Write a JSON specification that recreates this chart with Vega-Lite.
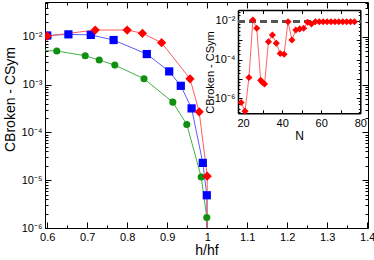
{
  "$schema": "https://vega.github.io/schema/vega-lite/v6.json",
  "width": 323,
  "height": 226,
  "autosize": {"type": "none"},
  "padding": {"left": 45, "top": 2, "right": 6, "bottom": 32},
  "background": "white",
  "config": {
    "font": "Liberation Sans",
    "view": {"stroke": "#000000", "strokeWidth": 1},
    "axis": {"labelColor": "#000000", "titleColor": "#000000", "tickColor": "#000000", "domainColor": "#000000", "grid": false, "titleFontWeight": "normal", "labelFont": "Liberation Sans", "titleFont": "Liberation Sans", "labelFlush": false, "labelOverlap": false}
  },
  "datasets": {
    "main": [
      {"s": "green", "h": 0.58, "C": 0.0052},
      {"s": "green", "h": 0.624, "C": 0.00502},
      {"s": "green", "h": 0.695, "C": 0.0040},
      {"s": "green", "h": 0.730, "C": 0.00325},
      {"s": "green", "h": 0.769, "C": 0.00255},
      {"s": "green", "h": 0.842, "C": 0.00132},
      {"s": "green", "h": 0.914, "C": 0.000428},
      {"s": "green", "h": 0.949, "C": 0.000146},
      {"s": "green", "h": 0.985, "C": 0.0000117},
      {"s": "green", "h": 0.999, "C": 0.00000165},
      {"s": "green", "h": 1.0005, "C": 0.00000001},
      {"s": "blue", "h": 0.6, "C": 0.0106},
      {"s": "blue", "h": 0.653, "C": 0.0112},
      {"s": "blue", "h": 0.709, "C": 0.0109},
      {"s": "blue", "h": 0.766, "C": 0.00853},
      {"s": "blue", "h": 0.849, "C": 0.00434},
      {"s": "blue", "h": 0.905, "C": 0.00188},
      {"s": "blue", "h": 0.934, "C": 0.00094},
      {"s": "blue", "h": 0.961, "C": 0.000317},
      {"s": "blue", "h": 0.989, "C": 0.000023},
      {"s": "blue", "h": 0.999, "C": 0.00000484},
      {"s": "blue", "h": 1.0005, "C": 0.00000001},
      {"s": "red", "h": 0.6, "C": 0.0103},
      {"s": "red", "h": 0.72, "C": 0.0138},
      {"s": "red", "h": 0.80, "C": 0.0138},
      {"s": "red", "h": 0.838, "C": 0.0118},
      {"s": "red", "h": 0.886, "C": 0.0075},
      {"s": "red", "h": 0.957, "C": 0.00132},
      {"s": "red", "h": 0.98, "C": 0.000269},
      {"s": "red", "h": 1.0, "C": 0.0000121},
      {"s": "red", "h": 1.0005, "C": 0.00000001}
    ],
    "inset": [
      {"N": 19, "C": 0.00000062},
      {"N": 21, "C": 0.00000022},
      {"N": 23, "C": 0.000012},
      {"N": 25, "C": 0.0112},
      {"N": 27, "C": 0.0042},
      {"N": 29, "C": 0.0000087},
      {"N": 30, "C": 0.0000066},
      {"N": 31, "C": 0.0000056},
      {"N": 33, "C": 0.00085},
      {"N": 35, "C": 0.0019},
      {"N": 37, "C": 0.00071},
      {"N": 39, "C": 0.00021},
      {"N": 41, "C": 0.00019},
      {"N": 43, "C": 0.0092},
      {"N": 45, "C": 0.00104},
      {"N": 47, "C": 0.0034},
      {"N": 49, "C": 0.0039},
      {"N": 51, "C": 0.0042},
      {"N": 53, "C": 0.0086},
      {"N": 55, "C": 0.0070},
      {"N": 57, "C": 0.0092},
      {"N": 59, "C": 0.0092},
      {"N": 61, "C": 0.0092},
      {"N": 63, "C": 0.0092},
      {"N": 65, "C": 0.0092},
      {"N": 67, "C": 0.0092},
      {"N": 69, "C": 0.0092},
      {"N": 71, "C": 0.0092},
      {"N": 73, "C": 0.0092},
      {"N": 75, "C": 0.0092},
      {"N": 77, "C": 0.0092}
    ]
  },
  "resolve": {"scale": {"x": "independent", "y": "independent"}, "axis": {"x": "independent", "y": "independent"}},
  "layer": [
    {
      "data": {"name": "main"},
      "resolve": {"axis": {"x": "independent", "y": "independent"}, "scale": {"color": "independent"}},
      "layer": [
        {
          "mark": {"type": "line", "clip": true, "strokeWidth": 1},
          "encoding": {
            "x": {"field": "h", "type": "quantitative", "scale": {"domain": [0.5945, 1.402], "nice": false, "zero": false},
              "axis": {"orient": "bottom", "values": [0.6, 0.7, 0.8, 0.9, 1.0, 1.1, 1.2, 1.3, 1.4], "format": ".1~f", "ticks": false, "domain": false, "labelFontSize": 11, "labelPadding": 3, "title": "h/hf", "titleFontSize": 14, "titlePadding": 1}},
            "y": {"field": "C", "type": "quantitative", "scale": {"type": "log", "domain": [0.000001, 0.0532], "nice": false},
              "axis": {"orient": "left", "values": [0.000001, 0.00001, 0.0001, 0.001, 0.01], "labelExpr": "'10⁻' + ['⁰','¹','²','³','⁴','⁵','⁶','⁷','⁸','⁹'][round(-log(datum.value)/LN10)]", "ticks": false, "domain": false, "labelFontSize": 11, "labelPadding": 3, "title": "CBroken - CSym", "titleFontSize": 14, "titleY": 97}},
            "color": {"field": "s", "type": "nominal", "scale": {"domain": ["red", "blue", "green"], "range": ["#ff5c5c", "#5c5cff", "#45b045"]}, "legend": null}
          }
        },
        {
          "mark": {"type": "point", "filled": true, "clip": true, "opacity": 1, "strokeWidth": 0},
          "encoding": {
            "x": {"field": "h", "type": "quantitative", "scale": {"domain": [0.5945, 1.402], "nice": false, "zero": false},
              "axis": {"orient": "bottom", "values": [0.6, 0.7, 0.8, 0.9, 1.0, 1.1, 1.2, 1.3, 1.4], "labels": false, "domain": false, "tickSize": -6, "title": null}},
            "y": {"field": "C", "type": "quantitative", "scale": {"type": "log", "domain": [0.000001, 0.0532], "nice": false},
              "axis": {"orient": "left", "values": [0.000001, 0.00001, 0.0001, 0.001, 0.01], "labels": false, "domain": false, "tickSize": -6, "title": null}},
            "color": {"field": "s", "type": "nominal", "scale": {"domain": ["red", "blue", "green"], "range": ["#ff0000", "#0000ff", "#109010"]}, "legend": null},
            "shape": {"field": "s", "type": "nominal", "scale": {"domain": ["red", "blue", "green"], "range": ["diamond", "square", "circle"]}, "legend": null},
            "size": {"field": "s", "type": "nominal", "scale": {"domain": ["red", "blue", "green"], "range": [85, 50, 58]}, "legend": null}
          }
        },
        {
          "mark": {"type": "point", "opacity": 0},
          "encoding": {
            "x": {"field": "h", "type": "quantitative", "scale": {"domain": [0.5945, 1.402], "nice": false, "zero": false},
              "axis": {"orient": "bottom", "values": [0.65, 0.75, 0.85, 0.95, 1.05, 1.15, 1.25, 1.35], "labels": false, "domain": false, "tickSize": -3, "title": null}},
            "y": {"field": "C", "type": "quantitative", "scale": {"type": "log", "domain": [0.000001, 0.0532], "nice": false},
              "axis": {"orient": "left", "values": [0.000002, 0.000003, 0.000004, 0.000005, 0.000006, 0.000007, 0.000008, 0.000009, 0.00002, 0.00003, 0.00004, 0.00005, 0.00006, 0.00007, 0.00008, 0.00009, 0.0002, 0.0003, 0.0004, 0.0005, 0.0006, 0.0007, 0.0008, 0.0009, 0.002, 0.003, 0.004, 0.005, 0.006, 0.007, 0.008, 0.009, 0.02, 0.03, 0.04, 0.05], "labels": false, "domain": false, "tickSize": -3, "title": null}}
          }
        },
        {
          "mark": {"type": "point", "opacity": 0},
          "encoding": {
            "x": {"field": "h", "type": "quantitative", "scale": {"domain": [0.5945, 1.402], "nice": false, "zero": false},
              "axis": {"orient": "top", "values": [0.6, 0.7, 0.8, 0.9, 1.0, 1.1, 1.2, 1.3, 1.4], "labels": false, "domain": false, "tickSize": -6, "title": null}},
            "y": {"field": "C", "type": "quantitative", "scale": {"type": "log", "domain": [0.000001, 0.0532], "nice": false},
              "axis": {"orient": "right", "values": [0.000001, 0.00001, 0.0001, 0.001, 0.01], "labels": false, "domain": false, "tickSize": -6, "title": null}}
          }
        },
        {
          "mark": {"type": "point", "opacity": 0},
          "encoding": {
            "x": {"field": "h", "type": "quantitative", "scale": {"domain": [0.5945, 1.402], "nice": false, "zero": false},
              "axis": {"orient": "top", "values": [0.65, 0.75, 0.85, 0.95, 1.05, 1.15, 1.25, 1.35], "labels": false, "domain": false, "tickSize": -3, "title": null}},
            "y": {"field": "C", "type": "quantitative", "scale": {"type": "log", "domain": [0.000001, 0.0532], "nice": false},
              "axis": {"orient": "right", "values": [0.000002, 0.000003, 0.000004, 0.000005, 0.000006, 0.000007, 0.000008, 0.000009, 0.00002, 0.00003, 0.00004, 0.00005, 0.00006, 0.00007, 0.00008, 0.00009, 0.0002, 0.0003, 0.0004, 0.0005, 0.0006, 0.0007, 0.0008, 0.0009, 0.002, 0.003, 0.004, 0.005, 0.006, 0.007, 0.008, 0.009, 0.02, 0.03, 0.04, 0.05], "labels": false, "domain": false, "tickSize": -3, "title": null}}
          }
        }
      ]
    },
    {
      "data": {"name": "inset"},
      "resolve": {"axis": {"x": "independent", "y": "independent"}},
      "layer": [
        {
          "mark": {"type": "rule", "strokeDash": [7, 4], "strokeWidth": 2, "color": "#555555"},
          "encoding": {
            "x": {"datum": 17.4, "type": "quantitative", "scale": {"domain": [17.4, 80], "range": [193, 315.3], "nice": false, "zero": false}, "axis": null},
            "x2": {"datum": 80},
            "y": {"datum": 0.0092, "type": "quantitative", "scale": {"type": "log", "domain": [0.00000017, 0.037], "range": [111.3, 8], "nice": false}, "axis": null}
          }
        },
        {
          "mark": {"type": "line", "strokeWidth": 1, "color": "#ff6464"},
          "encoding": {
            "x": {"field": "N", "type": "quantitative", "scale": {"domain": [17.4, 80], "range": [193, 315.3], "nice": false, "zero": false},
              "axis": {"orient": "bottom", "offset": -114.7, "values": [20, 40, 60, 80], "ticks": false, "domain": false, "labelFontSize": 11, "labelPadding": 4, "title": "N", "titleFontSize": 12, "titlePadding": 2}},
            "y": {"field": "C", "type": "quantitative", "scale": {"type": "log", "domain": [0.00000017, 0.037], "range": [111.3, 8], "nice": false},
              "axis": {"orient": "left", "offset": -193, "values": [0.000001, 0.0001, 0.01], "labelExpr": "'10⁻' + ['⁰','¹','²','³','⁴','⁵','⁶','⁷','⁸','⁹'][round(-log(datum.value)/LN10)]", "ticks": false, "domain": false, "labelFontSize": 11, "labelPadding": 3, "title": "CBroken - CSym", "titleFontSize": 11, "titleX": -23, "titleY": 70}}
          }
        },
        {
          "mark": {"type": "point", "filled": true, "shape": "diamond", "size": 50, "color": "#ff0000", "opacity": 1, "strokeWidth": 0},
          "encoding": {
            "x": {"field": "N", "type": "quantitative", "scale": {"domain": [17.4, 80], "range": [193, 315.3], "nice": false, "zero": false},
              "axis": {"orient": "bottom", "offset": -114.7, "values": [20, 30, 40, 50, 60, 70, 80], "labels": false, "domain": true, "domainWidth": 1.5, "tickSize": -3.5, "title": null}},
            "y": {"field": "C", "type": "quantitative", "scale": {"type": "log", "domain": [0.00000017, 0.037], "range": [111.3, 8], "nice": false},
              "axis": {"orient": "left", "offset": -193, "values": [0.000001, 0.00001, 0.0001, 0.001, 0.01], "labels": false, "domain": true, "domainWidth": 1.5, "tickSize": -4, "title": null}}
          }
        },
        {
          "mark": {"type": "point", "opacity": 0},
          "encoding": {
            "x": {"field": "N", "type": "quantitative", "scale": {"domain": [17.4, 80], "range": [193, 315.3], "nice": false, "zero": false},
              "axis": {"orient": "top", "offset": -8, "values": [20, 30, 40, 50, 60, 70, 80], "labels": false, "domain": true, "domainWidth": 1.5, "tickSize": -3.5, "title": null}},
            "y": {"field": "C", "type": "quantitative", "scale": {"type": "log", "domain": [0.00000017, 0.037], "range": [111.3, 8], "nice": false},
              "axis": {"orient": "right", "offset": -7.7, "values": [0.000001, 0.00001, 0.0001, 0.001, 0.01], "labels": false, "domain": true, "domainWidth": 1.5, "tickSize": -4, "title": null}}
          }
        },
        {
          "mark": {"type": "point", "opacity": 0},
          "encoding": {
            "x": {"field": "N", "type": "quantitative", "scale": {"domain": [17.4, 80], "range": [193, 315.3], "nice": false, "zero": false}, "axis": null},
            "y": {"field": "C", "type": "quantitative", "scale": {"type": "log", "domain": [0.00000017, 0.037], "range": [111.3, 8], "nice": false},
              "axis": {"orient": "left", "offset": -193, "values": [0.0000002, 0.0000003, 0.0000005, 0.0000007, 0.000002, 0.000003, 0.000005, 0.000007, 0.00002, 0.00003, 0.00005, 0.00007, 0.0002, 0.0003, 0.0005, 0.0007, 0.002, 0.003, 0.005, 0.007, 0.02, 0.03], "labels": false, "domain": false, "tickSize": -2, "title": null}}
          }
        },
        {
          "mark": {"type": "point", "opacity": 0},
          "encoding": {
            "x": {"field": "N", "type": "quantitative", "scale": {"domain": [17.4, 80], "range": [193, 315.3], "nice": false, "zero": false}, "axis": null},
            "y": {"field": "C", "type": "quantitative", "scale": {"type": "log", "domain": [0.00000017, 0.037], "range": [111.3, 8], "nice": false},
              "axis": {"orient": "right", "offset": -7.7, "values": [0.0000002, 0.0000003, 0.0000005, 0.0000007, 0.000002, 0.000003, 0.000005, 0.000007, 0.00002, 0.00003, 0.00005, 0.00007, 0.0002, 0.0003, 0.0005, 0.0007, 0.002, 0.003, 0.005, 0.007, 0.02, 0.03], "labels": false, "domain": false, "tickSize": -2, "title": null}}
          }
        }
      ]
    }
  ]
}
